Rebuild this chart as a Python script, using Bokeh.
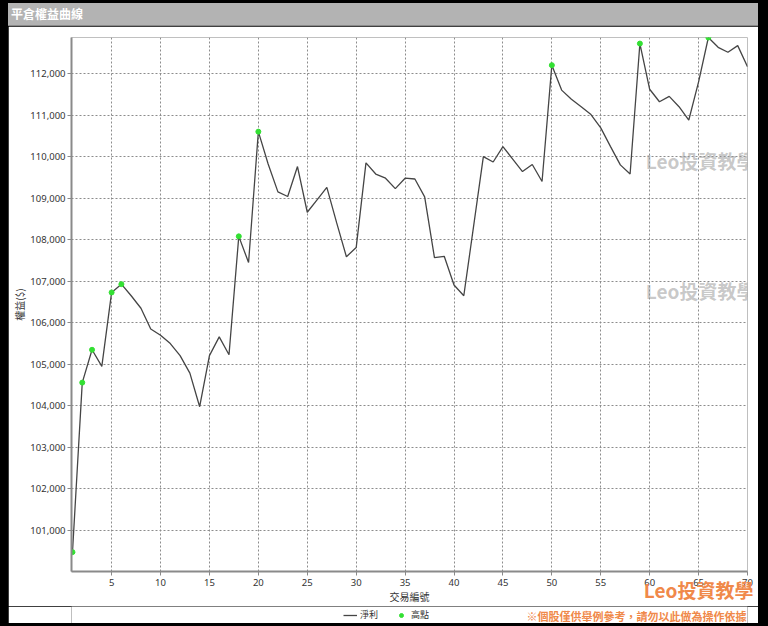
from bokeh.plotting import figure
from bokeh.models import (Range1d, FixedTicker, NumeralTickFormatter, Legend, LegendItem,
                          Label, Div, ColumnDataSource, Title)
from bokeh.layouts import column
from bokeh.embed import file_html
from bokeh.resources import INLINE

# ---- data ----
trades = list(range(1, 71))
equity = [100480, 104560, 105350, 104950, 106730, 106930, 106650, 106350, 105850, 105700,
          105500, 105210, 104790, 103980, 105210, 105660, 105230, 108080, 107450, 110600,
          109820, 109150, 109040, 109760, 108660, 108960, 109260, 108410, 107590, 107810,
          109850, 109580, 109480, 109230, 109480, 109460, 109030, 107570, 107600, 106910,
          106650, 108320, 110000, 109870, 110240, 109940, 109640, 109810, 109400, 112200,
          111600, 111380, 111200, 111010, 110690, 110240, 109800, 109580, 112720, 111620,
          111320, 111450, 111200, 110880, 111800, 112866, 112630, 112510, 112670, 112160]
high_trades = [1, 2, 3, 5, 6, 18, 20, 50, 59, 66]
high_values = [100480, 104560, 105350, 106730, 106930, 108080, 110600, 112200, 112720, 112866]
x_ticks = [5, 10, 15, 20, 25, 30, 35, 40, 45, 50, 55, 60, 65, 70]
y_ticks = [101000, 102000, 103000, 104000, 105000, 106000, 107000, 108000, 109000,
           110000, 111000, 112000]

title_text = "平倉權益曲線"
x_label = "交易編號"
y_label = "權益($)"
legend_line = "淨利"
legend_high = "高點"
watermark = "Leo投資教學"
disclaimer = "※個股僅供舉例參考，請勿以此做為操作依據"

CJK = "Noto Sans CJK TC"
NUM = "Noto Sans"
ORANGE = "#f0894a"
LINE_COLOR = "#454545"
HIGH_COLOR = "#33e033"

p = figure(width=750, height=580, output_backend="svg", toolbar_location=None,
           x_range=Range1d(0.9, 70), y_range=Range1d(100014, 112866),
           min_border_left=63, min_border_right=11, min_border_top=11, min_border_bottom=35,
           background_fill_color="white", border_fill_color="white",
           margin=(0, 10, 0, 8))
p.outline_line_color = None

# grids
for g in (p.xgrid, p.ygrid):
    g.grid_line_color = "#8c8c8c"
    g.grid_line_dash = "2 2"
    g.grid_line_width = 1
p.xgrid.ticker = FixedTicker(ticks=x_ticks)
p.ygrid.ticker = FixedTicker(ticks=y_ticks)

# axes
p.xaxis.ticker = FixedTicker(ticks=x_ticks)
p.yaxis.ticker = FixedTicker(ticks=y_ticks)
p.yaxis.formatter = NumeralTickFormatter(format="0,0")
for ax in (p.xaxis, p.yaxis):
    ax.axis_line_color = "#8a8a8a"
    ax.axis_line_width = 2
    ax.major_tick_line_color = "#8a8a8a"
    ax.major_tick_in = 0
    ax.major_tick_out = 4
    ax.minor_tick_line_color = None
    ax.major_label_text_font = NUM
    ax.major_label_text_font_size = "9.5px"
    ax.major_label_text_color = "#333333"
    ax.axis_label_text_font = CJK
    ax.axis_label_text_font_size = "10px"
    ax.axis_label_text_font_style = "normal"
    ax.axis_label_text_color = "#333333"
p.xaxis.axis_label = x_label
p.yaxis.axis_label = y_label
p.xaxis.major_label_standoff = 3
p.yaxis.major_label_standoff = 2
p.xaxis.axis_label_standoff = 0
p.yaxis.axis_label_standoff = 0

src = ColumnDataSource(dict(x=trades, y=equity))
hsrc = ColumnDataSource(dict(x=high_trades, y=high_values))
p.line("x", "y", source=src, line_color=LINE_COLOR, line_width=1.3)
p.scatter("x", "y", source=hsrc, size=5, fill_color=HIGH_COLOR, line_color=HIGH_COLOR)

# gray watermarks inside the plot
for yy in (109900, 106770):
    p.add_layout(Label(x=59.6, y=yy, text=watermark, text_font=CJK, text_font_size="19px",
                       text_font_style="bold", text_color="#9a9a9a", text_alpha=0.55,
                       text_baseline="middle"))

# orange watermark over the x-axis area (title with no height of its own)
wm = Title(text=watermark, align="right", vertical_align="top", standoff=-61, offset=-6,
           text_font=CJK, text_font_size="19px", text_font_style="bold", text_color=ORANGE)
p.add_layout(wm, "below")

# legend strip below the chart (same frame as the chart, series drawn out of view)
q = figure(width=750, height=17, output_backend="svg", toolbar_location=None,
           x_range=Range1d(0, 1), y_range=Range1d(0, 1), x_axis_type=None, y_axis_type=None,
           min_border_left=63, min_border_right=11, min_border_top=0, min_border_bottom=0,
           background_fill_color="white", border_fill_color="white",
           margin=(0, 10, 3, 8))
q.outline_line_color = None
q.xgrid.visible = False
q.ygrid.visible = False
key_line = q.line("x", "y", source=src, line_color=LINE_COLOR, line_width=1.3)
key_high = q.scatter("x", "y", source=hsrc, size=5, fill_color=HIGH_COLOR,
                     line_color=HIGH_COLOR)
legend = Legend(items=[LegendItem(label=legend_line, renderers=[key_line]),
                       LegendItem(label=legend_high, renderers=[key_high])],
                orientation="horizontal", location=(272, 2),
                label_text_font=CJK, label_text_font_size="9px", label_text_color="#333333",
                glyph_width=14, glyph_height=10, label_height=10, spacing=14, padding=0,
                margin=0, label_standoff=3, border_line_color=None, background_fill_alpha=0)
q.add_layout(legend, "center")
q.add_layout(Label(x=675, y=8, x_units="screen", y_units="screen", text=disclaimer,
                   text_font=CJK, text_font_size="11px", text_font_style="bold",
                   text_color=ORANGE, text_align="right", text_baseline="middle"))

title = Div(text=title_text, width=750, height=23, margin=(3, 10, 0, 8),
            styles={"background-color": "#b3b3b3", "color": "white", "font-weight": "bold",
                    "font-family": CJK, "font-size": "12px", "line-height": "22px",
                    "padding-left": "3px", "box-sizing": "border-box",
                    "border-bottom": "1px solid #8a8a8a"})

layout = column(title, p, q, spacing=0, styles={"background-color": "black"})
open("out.html", "w").write(file_html(layout, INLINE))
